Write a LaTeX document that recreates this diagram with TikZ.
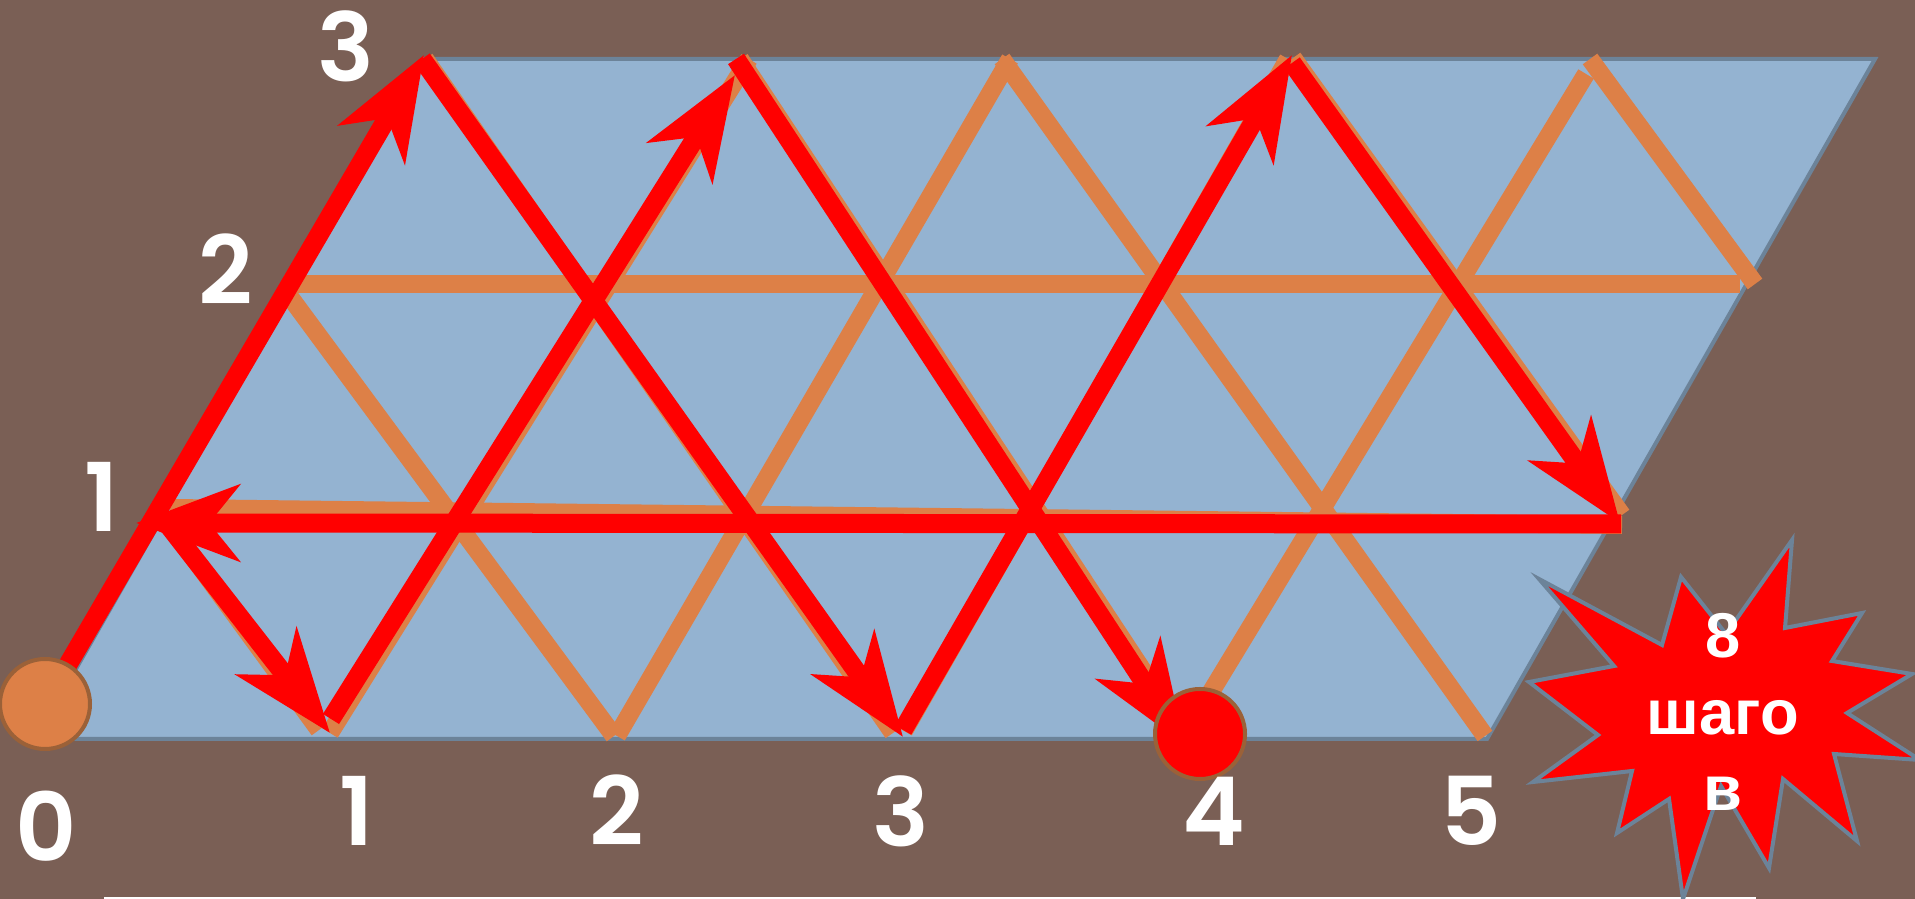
\documentclass[tikz,border=0pt]{standalone}
\usepackage{fontspec}
\usepackage{tikz}
\usetikzlibrary{arrows.meta,shapes.geometric}
\newfontfamily\numfont{Poppins SemiBold}
\newfontfamily\burstfont{Liberation Sans}
\definecolor{bgbrown}{RGB}{122,95,85}
\definecolor{field}{RGB}{148,179,209}
\definecolor{edgeblue}{RGB}{108,131,153}
\definecolor{grid}{RGB}{221,128,71}
\definecolor{rim}{RGB}{155,97,56}
\tikzset{
  gridline/.style={draw=grid,line width=0.18cm},
  way/.style={draw=red,line width=0.19cm},
  wayarr/.style={way,-{Stealth[length=1.03cm,width=0.76cm,inset=0.3cm]}},
  num/.style={text=white,font=\numfont\fontsize{27}{30}\selectfont,inner sep=0pt},
  dot/.style={circle,draw=rim,line width=0.04cm,minimum size=0.9cm,inner sep=0pt},
  burst/.style={draw=edgeblue,fill=red,line width=0.04cm,line join=miter}
}
\begin{document}
\begin{tikzpicture}
\useasboundingbox (0,0) rectangle (19.15,8.99);
\fill[bgbrown] (0,0) rectangle (19.15,8.99);
\coordinate (ruleL) at (1.04,0.01);
\coordinate (ruleR) at (17.56,0.01);
\draw[white,line width=0.02cm] (ruleL) -- (ruleR);
\draw[draw=edgeblue,fill=field,line width=0.04cm] (0.36,1.60) -- (4.24,8.40) -- (18.75,8.40) -- (14.87,1.60) -- cycle;
% grid points
\foreach \n/\x/\y in {pA/3.30/1.66,pB/7.49/8.40,pC/6.17/1.63,pD/10.10/8.40,pE/9.04/1.68,pF/12.88/8.40,pG/11.83/1.61,pH/15.86/8.25,
    qA/1.65/3.80,qB/3.19/1.69,qC/2.90/6.02,qD/6.14/1.63,qE/4.25/8.40,qF/8.93/1.66,qG/7.40/8.40,qH/11.88/1.60,qI/10.02/8.40,qJ/14.85/1.63,qK/12.93/8.41,qL/16.22/3.84,qM/15.90/8.40,qN/17.55/6.15,
    hA/2.84/6.15,hB/17.40/6.15,hC/1.70/3.91,hD/16.22/3.74}
  \coordinate (\n) at (\x,\y);
\foreach \a/\b in {pA/pB,pC/pD,pE/pF,pG/pH,qA/qB,qC/qD,qE/qF,qG/qH,qI/qJ,qK/qL,qM/qN,hA/hB,hC/hD}
  \draw[gridline] (\a) -- (\b);
% the way
\foreach \n/\x/\y in {s0/0.45/1.95,s1/4.24/8.44,s2/4.22/8.40,s3/9.03/1.62,s4/9.03/1.69,s5/12.92/8.44,s6/12.92/8.36,s7/16.20/3.76,
    s8/16.21/3.75,s9/1.36/3.76,s10/1.65/3.78,s11/3.30/1.66,s12/3.31/1.80,s13/7.35/8.24,s14/7.36/8.40,s15/11.85/1.54}
  \coordinate (\n) at (\x,\y);
\foreach \a/\b in {s0/s1,s2/s3,s4/s5,s6/s7,s8/s9,s10/s11,s12/s13,s14/s15}
  \draw[wayarr] (\a) -- (\b);
\node[dot,fill=grid] (start) at (0.45,1.95) {};
\node[dot,fill=red] (finish) at (12.00,1.65) {};
% numbers
\foreach \n/\x/\y/\t in {b0/0.46/0.73/0,b1/3.57/0.88/1,b2/6.17/0.89/2,b3/9.01/0.88/3,b4/12.14/0.88/4,b5/14.71/0.88/5,
    l1/1.02/4.02/1,l2/2.26/6.30/2,l3/3.46/8.53/3}
  \node[num] (\n) at (\x,\y) {\t};
% star
\draw[burst] (15.39,3.20) -- (16.62,2.54) -- (16.81,3.22) -- (17.26,2.65) -- (17.92,3.59) -- (17.85,2.71) -- (18.62,2.86) -- (18.32,2.38) -- (19.12,2.25) -- (18.47,1.86) -- (19.20,1.39) -- (18.34,1.45) -- (18.57,0.58) -- (17.83,1.20) -- (17.69,0.31) -- (17.21,1.13) -- (16.83,0.00) -- (16.69,1.00) -- (16.17,0.66) -- (16.32,1.28) -- (15.33,1.17) -- (15.98,1.64) -- (15.29,2.17) -- (16.14,2.33) -- cycle;
\node[text=white,align=center,font=\burstfont\bfseries\fontsize{18}{21.8}\selectfont,inner sep=0pt] (count) at (17.23,1.87) {8\\шаго\\в};
\end{tikzpicture}
\end{document}
